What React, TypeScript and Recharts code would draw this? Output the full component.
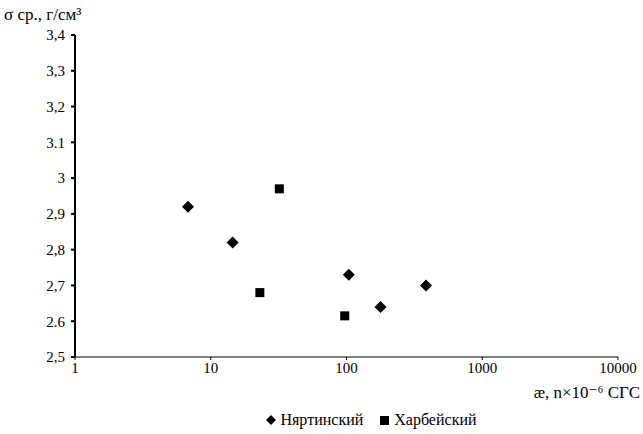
import { ScatterChart, Scatter, XAxis, YAxis, Legend } from 'recharts'

const nyartX = [6.8, 14.5, 104, 178, 385]
const nyartY = [2.92, 2.82, 2.73, 2.64, 2.7]
const kharbX = [32, 23, 97]
const kharbY = [2.97, 2.68, 2.615]

const xTicks = [1, 10, 100, 1000, 10000]
const yTicks = [2.5, 2.6, 2.7, 2.8, 2.9, 3, 3.1, 3.2, 3.3, 3.4]
const yTickLabels = ['2,5', '2.6', '2,7', '2,8', '2,9', '3', '3.1', '3,2', '3,3', '3,4']

const seriesNames = ['Няртинский', 'Харбейский']

const nyart = nyartX.map((x, i) => ({ x, y: nyartY[i] }))
const kharb = kharbX.map((x, i) => ({ x, y: kharbY[i] }))

const font = '"Liberation Serif", "DejaVu Serif", serif'

function Diamond(props: any) {
  const { cx, cy } = props
  const r = 6
  return (
    <polygon
      points={`${cx},${cy - r} ${cx + r},${cy} ${cx},${cy + r} ${cx - r},${cy}`}
      fill="#000"
    />
  )
}

function Square(props: any) {
  const { cx, cy } = props
  return <rect x={cx - 4.5} y={cy - 4.5} width={9} height={9} fill="#000" />
}

function LegendBox() {
  return (
    <div
      style={{
        display: 'flex',
        justifyContent: 'center',
        gap: 16,
        fontFamily: font,
        fontSize: 16,
        color: '#000',
        paddingLeft: 110,
        height: 18,
      }}
    >
      <span style={{ display: 'flex', alignItems: 'center', gap: 4 }}>
        <svg width={10} height={10}>
          <polygon points="5,0 10,5 5,10 0,5" fill="#000" />
        </svg>
        {seriesNames[0]}
      </span>
      <span style={{ display: 'flex', alignItems: 'center', gap: 5 }}>
        <svg width={10} height={10}>
          <rect x={1} y={1} width={9} height={9} fill="#000" />
        </svg>
        {seriesNames[1]}
      </span>
    </div>
  )
}

export default function App() {
  return (
    <div style={{ position: 'absolute', left: 0, top: 0, width: 643, height: 434, background: '#fff' }}>
      <ScatterChart
        width={643}
        height={434}
        margin={{ top: 35, right: 25, bottom: 39, left: 15 }}
      >
        <XAxis
          dataKey="x"
          type="number"
          scale="log"
          domain={[1, 10000]}
          ticks={xTicks}
          allowDataOverflow
          stroke="#000"
          tickSize={3}
          tickMargin={2}
          tick={{ fill: '#000', fontSize: 15, fontFamily: font }}
          height={20}
        />
        <YAxis
          dataKey="y"
          type="number"
          domain={[2.5, 3.4]}
          ticks={yTicks}
          interval={0}
          stroke="#000"
          strokeWidth={2}
          tickSize={4}
          tickMargin={6}
          tick={{ fill: '#000', fontSize: 15, fontFamily: font }}
          tickFormatter={(v: number) => yTickLabels[yTicks.indexOf(v)] ?? String(v)}
          width={60}
        />
        <Legend
          verticalAlign="bottom"
          align="center"
          wrapperStyle={{ bottom: 5 }}
          content={() => <LegendBox />}
        />
        <Scatter
          name={seriesNames[0]}
          data={nyart}
          shape={<Diamond />}
          isAnimationActive={false}
        />
        <Scatter
          name={seriesNames[1]}
          data={kharb}
          shape={<Square />}
          isAnimationActive={false}
        />
        <text x={4} y={20} fontFamily={font} fontSize={17} fill="#000">
          σ ср., г/см³
        </text>
        <text x={640} y={398} textAnchor="end" fontFamily={font} fontSize={17} fill="#000">
          æ, n×10⁻⁶ СГС
        </text>
      </ScatterChart>
    </div>
  )
}
